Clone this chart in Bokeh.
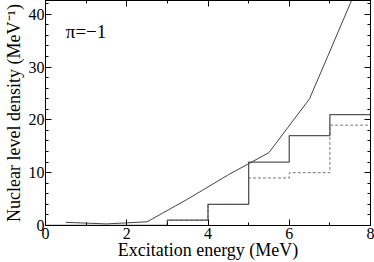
from bokeh.plotting import figure
from bokeh.models import LinearAxis, SingleIntervalTicker, Label, CustomJSTickFormatter
from bokeh.embed import file_html
from bokeh.resources import INLINE

# Data
curve_x = [0.5, 1.5, 2.5, 3.5, 4.5, 5.5, 6.5, 7.5, 8.0]
curve_y = [0.6, 0.3, 0.7, 5.0, 9.6, 13.8, 24.0, 42.0, 51.0]

bin_edges = [0, 1, 2, 3, 4, 5, 6, 7, 8]
solid_counts = [0, 0, 0, 1, 4, 12, 17, 21, 21]
dashed_counts = [0, 0, 0, 1, 4, 9, 10, 19, 19]

x_ticks_interval = 2
y_ticks_interval = 10

FONT = "Liberation Serif"

p = figure(width=374, height=262, x_range=(0, 8), y_range=(0, 42.6),
           output_backend="svg", toolbar_location=None,
           x_axis_location=None, y_axis_location=None,
           min_border_left=44, min_border_right=4, min_border_top=0, min_border_bottom=0)
p.xgrid.visible = False
p.ygrid.visible = False
p.outline_line_color = "black"
p.outline_line_width = 1
p.background_fill_color = "white"


def style(ax, show_labels):
    ax.axis_line_color = "black"
    ax.major_tick_in = 6
    ax.major_tick_out = 0
    ax.minor_tick_in = 3
    ax.minor_tick_out = 0
    ax.major_tick_line_color = "black"
    ax.minor_tick_line_color = "black"
    ax.major_label_text_font = FONT
    ax.major_label_text_color = "black"
    ax.axis_label_text_font = FONT
    ax.axis_label_text_font_style = "normal"
    ax.axis_label_text_color = "black"
    if show_labels:
        ax.major_label_text_font_size = "16px"
        ax.axis_label_text_font_size = "18px"
        ax.major_label_standoff = 2
        ax.axis_label_standoff = 0
    else:
        ax.formatter = CustomJSTickFormatter(code="return ''")
        ax.major_label_standoff = 0


xb = LinearAxis(ticker=SingleIntervalTicker(interval=x_ticks_interval, num_minor_ticks=2),
                axis_label="Excitation energy (MeV)")
style(xb, True)
xb.axis_label_standoff = -2
p.add_layout(xb, "below")

xt = LinearAxis(ticker=SingleIntervalTicker(interval=x_ticks_interval, num_minor_ticks=2))
style(xt, False)
p.add_layout(xt, "above")

yl = LinearAxis(ticker=SingleIntervalTicker(interval=y_ticks_interval, num_minor_ticks=5),
                axis_label="Nuclear level density (MeV⁻¹)")
style(yl, True)
yl.major_label_standoff = 1
yl.axis_label_standoff = 2
p.add_layout(yl, "left")

yr = LinearAxis(ticker=SingleIntervalTicker(interval=y_ticks_interval, num_minor_ticks=5))
style(yr, False)
p.add_layout(yr, "right")

p.step(bin_edges, dashed_counts, mode="after", line_color="#777777", line_width=1,
       line_dash="3 2")
p.step(bin_edges, solid_counts, mode="after", line_color="#555555", line_width=1.3)
p.line(curve_x, curve_y, line_color="#444444", line_width=1)

p.add_layout(Label(x=0.5, y=36.8, text="π=−1", text_font=FONT, text_font_size="19px",
                   text_baseline="alphabetic", text_color="black"))

open("out.html", "w").write(file_html(p, INLINE))
